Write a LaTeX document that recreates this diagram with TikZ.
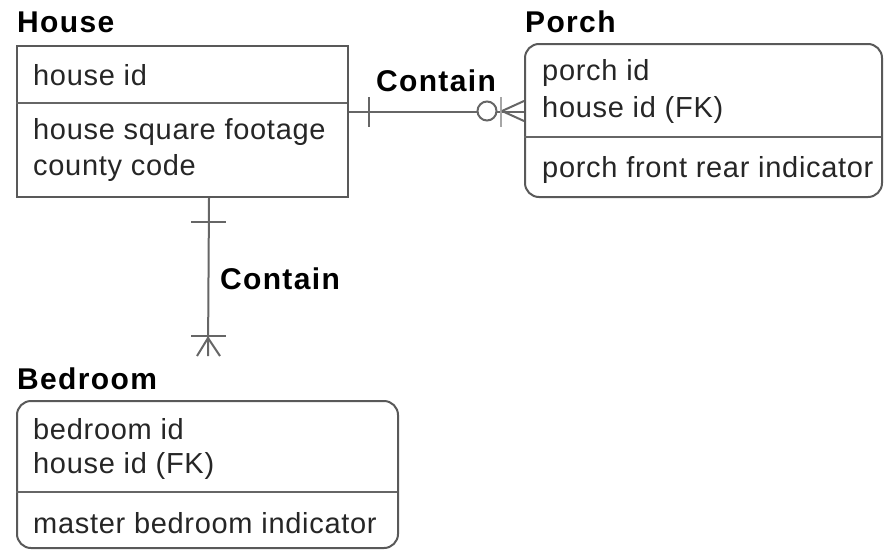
\documentclass[tikz,border=0pt]{standalone}
\usepackage{fontspec}
\setmainfont{Liberation Sans}
\newfontfamily\attrfont[LetterSpace=2.4]{Liberation Sans}
\newfontfamily\titlefont[LetterSpace=4.5]{Liberation Sans}
\begin{document}
\begin{tikzpicture}[x=1pt,y=-1pt,
  ent/.style={draw=black!65, line width=2pt, fill=white, inner sep=0pt, anchor=north west},
  rent/.style={ent, rounded corners=14pt},
  divline/.style={draw=black!60, line width=2pt},
  attr/.style={anchor=west, inner sep=0pt, font=\attrfont\fontsize{29}{34}\selectfont, text=black!85},
  title/.style={anchor=west, inner sep=0pt, font=\titlefont\fontsize{30}{36}\selectfont\bfseries},
  rel/.style={font=\titlefont\fontsize{30}{36}\selectfont\bfseries, inner sep=0pt},
  conn/.style={draw=black!60, line width=2pt},
  tick/.style={draw=black!60, line width=2pt},
  faint/.style={draw=black!35, line width=1.5pt}
]
\useasboundingbox (0,0) rectangle (885,549);

% House
\node[title] (houseT) at (17,22) {House};
\node[ent, minimum width=331pt, minimum height=151pt] (House) at (16,45) {};
\draw[divline] (16,103) -- (347,103);
\node[attr] (h1) at (33,75) {house id};
\node[attr] (h2) at (33,132) {house square footage};
\node[attr] (h3) at (33,168) {county code};

% Porch
\node[title] (porchT) at (525,22) {Porch};
\node[rent, minimum width=357pt, minimum height=153pt] (Porch) at (524,43) {};
\draw[divline] (524,137) -- (881,137);
\node[attr] (p1) at (542,73) {porch id};
\node[attr] (p2) at (542,110) {house id (FK)};
\node[attr] (p3) at (542,170) {porch front rear indicator};

% Bedroom
\node[title] (bedT) at (17,379) {Bedroom};
\node[rent, minimum width=381pt, minimum height=147pt] (Bedroom) at (16,400) {};
\draw[divline] (16,492) -- (397,492);
\node[attr] (b1) at (33,429) {bedroom id};
\node[attr] (b2) at (33,466) {house id (FK)};
\node[attr] (b3) at (33,523) {master bedroom indicator};

% Connector House - Porch
\draw[conn] ([yshift=9.5pt]House.east) -- ([yshift=8.5pt]Porch.west);
\draw[tick] (369,97) -- (369,127);
\draw[tick, fill=white] (487,111) circle (9.5pt);
\draw[faint] (501,97) -- (501,127);
\draw[tick] (502,111) -- (524,101);
\draw[tick] (502,111) -- (524,121);
\node[rel] (rel1) at (436,81) {Contain};

% Connector House - Bedroom
\coordinate (bedEnd) at (208,356);
\draw[conn] ([xshift=26.5pt]House.south) -- (bedEnd);
\draw[tick] (191,222) -- (226,222);
\draw[tick] (191,336) -- (226,336);
\draw[tick] (208,338) -- (197,356);
\draw[tick] (208,338) -- (220,356);
\node[rel] (rel2) at (280,279) {Contain};
\end{tikzpicture}
\end{document}
